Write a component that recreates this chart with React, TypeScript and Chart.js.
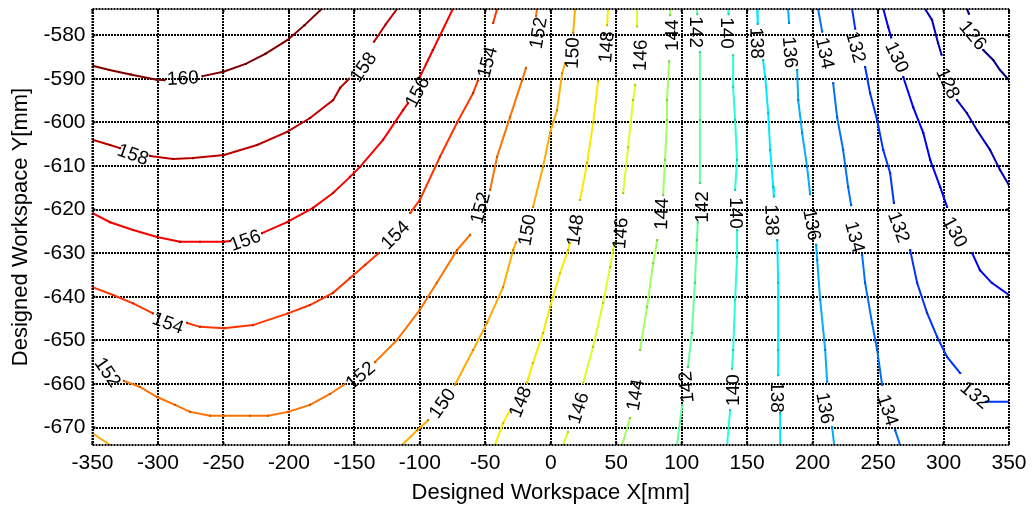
import React, { useEffect, useRef } from "react";
import { Chart, registerables } from "chart.js";

Chart.register(...registerables);

type P = [number, number] | null;

const xTicks = [-350, -300, -250, -200, -150, -100, -50, 0, 50, 100, 150, 200, 250, 300, 350];
const yTicks = [-670, -660, -650, -640, -630, -620, -610, -600, -590, -580];
const levels = [160, 158, 156, 154, 152, 150, 148, 146, 144, 142, 140, 138, 136, 134, 132, 130, 128, 126];

const c160: P[] = [[-350, -587], [-337, -588], [-321, -589], [-301, -590.2], [-295, -590.3], null, [-266, -589.4], [-250, -588.4], [-233, -586.6], [-218, -584.3], [-201, -581.1], [-188, -577.7], [-175, -574]];
const c158: P[] = [[-350, -604], [-336.6, -605.2], [-329, -605.9], null, [-306, -607.7], [-288.5, -608.4], [-273.2, -608.2], [-249.5, -607.5], [-224.3, -605.2], [-201.4, -602.2], [-183.8, -599], [-166.2, -594.9], [-160.9, -592.1], [-154, -590], null, [-135, -581.5], [-126, -577.5], [-117.4, -574]];
const c156: P[] = [[-350, -620.8], [-336.6, -622.9], [-319, -624.7], [-300.7, -626.3], [-283.2, -627.4], [-267.9, -627.4], [-249.6, -627.4], [-245, -627.2], null, [-220.5, -625.4], [-201.4, -622.9], [-181.6, -619.6], [-166.3, -616.2], [-153.3, -612.5], [-145.7, -610.2], [-128.1, -604], [-112.8, -597.2], [-109, -595.6], null, [-100, -589.6], [-90, -583.4], [-74.8, -574]];
const c154: P[] = [[-350, -637.8], [-334.3, -639.6], [-319, -641.5], [-303.8, -643.8], null, [-277.8, -646], [-267.9, -646.9], [-249.6, -647.2], [-227.4, -646.5], [-200.7, -643.8], [-183.9, -641.9], [-166.3, -639.1], [-153.3, -635.7], [-141.8, -632.7], [-131.6, -630], null, [-107.4, -620.8], [-100, -617.8], [-84.6, -607.9], [-71.6, -600.1], [-59.3, -593.3], [-55.5, -590.3], null, [-44, -577.2], [-41, -574]];
const c152: P[] = [[-350, -654.3], null, [-326, -659.3], [-313.7, -660.7], [-300.7, -663], [-287, -664.8], [-275.5, -666.4], [-260.2, -667.3], [-249.6, -667.3], [-229.7, -667.3], [-216, -667.3], [-200.7, -666.4], [-183.9, -664.8], [-168.6, -662.3], [-157.1, -660], null, [-134.2, -655], [-117.4, -649.9], [-100, -643], [-87, -636.8], [-71.6, -629.3], [-61.6, -625.8], null, [-46.3, -615.5], [-41, -607.9], [-31.1, -598.8], [-21.9, -590.3], [-18.9, -587.5], null, [-11.2, -575.6], [-10.5, -574]];
const c150: P[] = [[-350, -671.3], [-336.6, -674], null, [-113.6, -674], [-102, -670.6], [-93.7, -668.3], null, [-73.1, -660.2], [-59.3, -652.2], [-48.6, -646], [-36.4, -637.8], [-28.7, -629.3], [-26.5, -627.5], null, [-13.5, -619.4], [-5.9, -610.2], [-0.5, -602.4], [4.8, -597.2], [8.7, -588.7], [11, -586.4], null, [17.1, -579.5], [18.6, -574]];
const c148: P[] = [[-42.6, -674], [-36.4, -669], [-31.1, -666], null, [-18.2, -659.8], [-13.6, -655.2], [-5.9, -648.3], [-0.5, -642.3], [7.1, -634.6], [13.2, -629.3], [14.5, -627.7], null, [22.4, -617.8], [27.8, -609.3], [32.4, -600.1], [36.2, -590.5], null, [43, -577.7], [43.8, -574]];
const c146: P[] = [[9.4, -674], [13.2, -671], null, [24.7, -659.8], [32.3, -651.5], [40, -641.4], [45.3, -633.2], [47.6, -629.3], [48.6, -627.5], null, [55.3, -616.2], [59.1, -605.7], [62.9, -594.9], [64.5, -591.4], null, [65.9, -578], [65.9, -574]];
const c144: P[] = [[54.5, -674], [60.6, -667.8], null, [68.2, -652.2], [73.6, -642.3], [78.2, -632.3], [81.3, -627], null, [85.8, -616.7], [87.3, -608.6], [88.8, -599.5], [88.8, -594.9], [90.4, -586], null, [91.2, -575.4], [91.2, -574]];
const c142: P[] = [[111.7, -574], [111.9, -575.2], null, [113.9, -583.9], [113.9, -599.5], [113.9, -613.9], null, [112.3, -622.9], [111.6, -627], [110.1, -636.8], [107.8, -648.3], [104.8, -656.1], null, [100.4, -664.8], [96.5, -674]];
const c140: P[] = [[135.6, -574], [135.8, -575.2], null, [139.3, -584.6], [139.3, -591.9], [140.8, -599.5], [142.3, -608.6], [140.8, -615.5], null, [142.3, -624.7], [142.3, -630.9], [140.8, -640.7], [139.3, -652.2], [138.5, -656.5], null, [137, -666], [134.7, -674]];
const c138: P[] = [[157.6, -574], [158.1, -577.4], null, [162.2, -585.7], [163.8, -589.6], [166.1, -597.9], [167.6, -606.3], [169.9, -614.8], [170.4, -617], null, [173, -627], [173.7, -636.8], [173.7, -652.2], [173.7, -658], null, [175.2, -666.7], [175.2, -674]];
const c136: P[] = [[181.3, -574], [182, -577.2], null, [188.2, -588], [189, -594.9], [192, -602.4], [195.8, -610.2], [198.1, -616.5], null, [202.7, -628.1], [203.5, -631.6], [205.8, -640.7], [209.6, -652.2], [211.1, -659.5], null, [214.9, -669.9], [216.5, -674]];
const c134: P[] = [[204.2, -574], [207.3, -579.2], null, [215.7, -591], [218.7, -598.8], [223.3, -606.3], [227.1, -614.8], [229.4, -619], null, [237.8, -630.4], [240.1, -636.8], [245.4, -646], [249.3, -652.2], [253.1, -660.2], null, [263, -670.6], [266.8, -674]];
const c132: P[] = [[230.2, -574], [232.5, -578.5], null, [240.1, -587.3], [243.9, -593.3], [249.3, -599.5], [253.9, -606.3], [259.2, -611.6], [262.1, -618.5], null, [274.5, -629.3], [279.8, -636.8], [287.4, -643.7], [295.1, -649.2], [302.7, -653.8], [312.7, -657.5], null, [332.2, -664.1], [350, -664.1]];
const c130: P[] = [[254, -574], [257.7, -578.1], [260, -580.5], null, [269.2, -589.6], [276.8, -596.5], [284.5, -602.4], [289.8, -608.6], [297.4, -614.8], [302.7, -619.4], null, [321.9, -630], [327.8, -633.9], [336.8, -636.8], [350, -639.6]];
const c128: P[] = [[285.9, -574], [291.2, -576.5], [295.8, -581.8], [298.5, -584.5], null, [310.3, -594.9], [317.9, -597.9], [325.6, -601.8], [335.5, -606.3], [343.1, -610.9], [350, -614.4]];
const c126: P[] = [[317.9, -574], [319.4, -575.1], null, [330.3, -583.4], [337.9, -585.7], [343.1, -588], [350, -590.3]];

const contours: P[][] = [c160, c158, c156, c154, c152, c150, c148, c146, c144, c142, c140, c138, c136, c134, c132, c130, c128, c126];

// contour labels: text, x, y, angle (deg)
const labelText = ["160", "158", "158", "156", "156", "154", "154", "154", "152", "152", "152", "152", "150", "150", "150", "148", "148", "148", "146", "146", "146", "144", "144", "144", "142", "142", "142", "140", "140", "140", "138", "138", "138", "136", "136", "136", "134", "134", "134", "132", "132", "132", "130", "130", "128", "126"];
const labelX = [-281, -319, -143.4, -233.5, -102.1, -292.3, -118.9, -48.6, -338.2, -145.6, -54, -9.7, -83, -18.2, 16.3, -23.4, 18.6, 42.3, 20.9, 53, 68.3, 64.4, 84.4, 92.8, 111.1, 115, 103.4, 134.7, 141.5, 139.3, 157.6, 169, 172.9, 182.9, 199.7, 209.6, 209.6, 232.5, 257.7, 233.2, 266.1, 324.2, 264.6, 308.9, 303.5, 322.6];
const labelY = [-589.8, -607.3, -587.3, -627, -593, -646, -625.8, -586.2, -657.3, -658, -619.6, -579.5, -664.4, -624.7, -584.1, -664.1, -624.7, -582.7, -665.5, -625.4, -584.6, -662.5, -621, -580, -579.3, -619.4, -660.7, -579.5, -620.8, -661.4, -581.8, -622.4, -663, -583.9, -623.5, -665.5, -584.1, -626.3, -666, -582.7, -624, -662.5, -585, -625.1, -591, -580];
const labelAngle = [-3, 20, -55, -20, -62, 20, -45, -75, 55, -40, -75, -80, -55, -80, -88, -68, -82, -85, -72, -85, -88, -80, -88, -90, 90, -90, -95, 90, 90, -90, 88, 88, 90, 85, 80, 80, 78, 75, 72, 75, 70, 40, 65, 62, 65, 50];

function jet(level: number, k: number): string {
  const t = (level - 126) / (160 - 126);
  const c = (v: number) => Math.round(Math.max(0, Math.min(1, v)) * 255 * k);
  const r = c(1.5 - Math.abs(4 * t - 3));
  const g = c(1.5 - Math.abs(4 * t - 2));
  const b = c(1.5 - Math.abs(4 * t - 1));
  return `rgb(${r},${g},${b})`;
}

const FONT = "'Liberation Sans', Arial, sans-serif";

const framePlugin = {
  id: "frameAndLabels",
  afterDatasetsDraw(chart: any) {
    const { ctx, chartArea, scales } = chart;
    const xs = scales.x;
    const ys = scales.y;
    ctx.save();
    ctx.strokeStyle = "#000";
    ctx.lineWidth = 2;
    ctx.setLineDash([2, 1]);
    ctx.beginPath();
    ctx.moveTo(chartArea.left, chartArea.top);
    ctx.lineTo(chartArea.right, chartArea.top);
    ctx.moveTo(chartArea.left, chartArea.bottom);
    ctx.lineTo(chartArea.right, chartArea.bottom);
    ctx.moveTo(chartArea.left, chartArea.top);
    ctx.lineTo(chartArea.left, chartArea.bottom);
    ctx.moveTo(chartArea.right, chartArea.top);
    ctx.lineTo(chartArea.right, chartArea.bottom);
    ctx.stroke();
    ctx.setLineDash([]);
    ctx.lineWidth = 2;
    ctx.beginPath();
    for (const v of xTicks) {
      const px = xs.getPixelForValue(v);
      ctx.moveTo(px, chartArea.bottom);
      ctx.lineTo(px, chartArea.bottom - 3);
      ctx.moveTo(px, chartArea.top);
      ctx.lineTo(px, chartArea.top + 3);
    }
    for (const v of yTicks) {
      const py = ys.getPixelForValue(v);
      ctx.moveTo(chartArea.left, py);
      ctx.lineTo(chartArea.left + 3, py);
      ctx.moveTo(chartArea.right, py);
      ctx.lineTo(chartArea.right - 3, py);
    }
    ctx.stroke();
    ctx.fillStyle = "#000";
    ctx.font = `19px ${FONT}`;
    ctx.textAlign = "center";
    ctx.textBaseline = "middle";
    for (let i = 0; i < labelText.length; i++) {
      const px = xs.getPixelForValue(labelX[i]);
      const py = ys.getPixelForValue(labelY[i]);
      ctx.save();
      ctx.translate(px, py);
      ctx.rotate((labelAngle[i] * Math.PI) / 180);
      ctx.fillText(labelText[i], 0, 1);
      ctx.restore();
    }
    ctx.restore();
  },
};

export default function App() {
  const ref = useRef<HTMLCanvasElement | null>(null);
  useEffect(() => {
    document.body.style.margin = "0";
    const canvas = ref.current;
    if (!canvas) return;
    const datasets = contours.map((pts, i) => ({
      label: String(levels[i]),
      data: pts.map((p) => (p ? { x: p[0], y: p[1] } : { x: NaN, y: null })),
      borderColor: jet(levels[i], 1),
      backgroundColor: jet(levels[i], 0.8),
      borderWidth: 2,
      pointStyle: "rect" as const,
      pointRadius: 1.5,
      pointBorderWidth: 0,
      pointBackgroundColor: jet(levels[i], 0.8),
      spanGaps: false,
      tension: 0,
      showLine: true,
    }));
    const chart = new Chart(canvas, {
      type: "scatter",
      data: { datasets },
      options: {
        animation: false,
        responsive: false,
        devicePixelRatio: 1,
        layout: { padding: { left: 0, top: 9, right: 25, bottom: 0 } },
        plugins: { legend: { display: false }, tooltip: { enabled: false } },
        scales: {
          x: {
            type: "linear",
            min: -350,
            max: 350,
            afterBuildTicks: (s: any) => {
              s.ticks = xTicks.map((v) => ({ value: v }));
            },
            afterFit: (s: any) => {
              s.height = 66;
              s.paddingLeft = 0;
              s.paddingRight = 0;
            },
            grid: { color: "#000", lineWidth: 2, drawTicks: false },
            border: { display: false, dash: [2, 1] },
            ticks: { color: "#000", font: { family: FONT, size: 21 }, padding: 6, maxRotation: 0, autoSkip: false },
            title: { display: true, text: "Designed Workspace X[mm]", color: "#000", font: { family: FONT, size: 22 }, padding: { top: 0, bottom: 5 } },
          },
          y: {
            type: "linear",
            min: -674,
            max: -574,
            afterBuildTicks: (s: any) => {
              s.ticks = yTicks.map((v) => ({ value: v }));
            },
            afterFit: (s: any) => {
              s.width = 92.5;
              s.paddingTop = 0;
              s.paddingBottom = 0;
            },
            grid: { color: "#000", lineWidth: 2, drawTicks: false },
            border: { display: false, dash: [2, 1] },
            ticks: { color: "#000", font: { family: FONT, size: 21 }, padding: 7, autoSkip: false },
            title: { display: true, text: "Designed Workspace Y[mm]", color: "#000", font: { family: FONT, size: 22 }, padding: { top: 8, bottom: 0 } },
          },
        },
      },
      plugins: [framePlugin],
    });
    return () => chart.destroy();
  }, []);
  return (
    <div style={{ position: "fixed", left: 0, top: 0, width: 1034, height: 511, background: "#fff" }}>
      <canvas ref={ref} width={1034} height={511} style={{ display: "block", width: 1034, height: 511 }} />
    </div>
  );
}
